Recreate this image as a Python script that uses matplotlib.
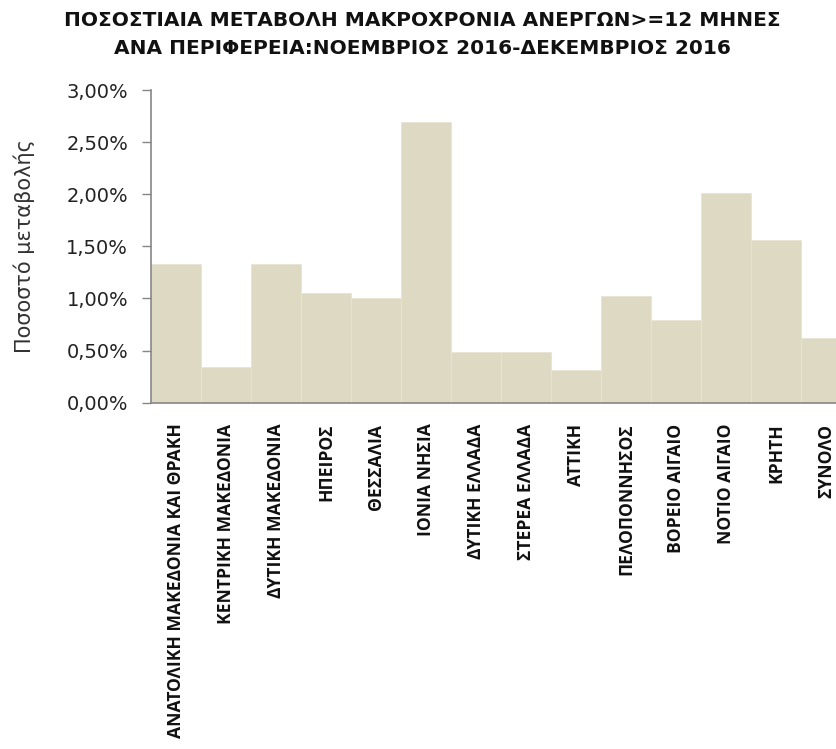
import matplotlib
matplotlib.use('Agg')
import matplotlib.pyplot as plt
from matplotlib import font_manager
from matplotlib.ticker import FuncFormatter, MultipleLocator

# Data (percent change, Nov 2016 -> Dec 2016)
regions = ['ΑΝΑΤΟΛΙΚΗ ΜΑΚΕΔΟΝΙΑ ΚΑΙ ΘΡΑΚΗ', 'ΚΕΝΤΡΙΚΗ ΜΑΚΕΔΟΝΙΑ', 'ΔΥΤΙΚΗ ΜΑΚΕΔΟΝΙΑ',
           'ΗΠΕΙΡΟΣ', 'ΘΕΣΣΑΛΙΑ', 'ΙΟΝΙΑ ΝΗΣΙΑ', 'ΔΥΤΙΚΗ ΕΛΛΑΔΑ', 'ΣΤΕΡΕΑ ΕΛΛΑΔΑ',
           'ΑΤΤΙΚΗ', 'ΠΕΛΟΠΟΝΝΗΣΟΣ', 'ΒΟΡΕΙΟ ΑΙΓΑΙΟ', 'ΝΟΤΙΟ ΑΙΓΑΙΟ', 'ΚΡΗΤΗ', 'ΣΥΝΟΛΟ']
change_pct = [1.33, 0.34, 1.33, 1.05, 1.00, 2.69, 0.49, 0.49, 0.31, 1.02, 0.79, 2.01, 1.56, 0.62]

title = 'ΠΟΣΟΣΤΙΑΙΑ ΜΕΤΑΒΟΛΗ ΜΑΚΡΟΧΡΟΝΙΑ ΑΝΕΡΓΩΝ>=12 ΜΗΝΕΣ\nΑΝΑ ΠΕΡΙΦΕΡΕΙΑ:ΝΟΕΜΒΡΙΟΣ 2016-ΔΕΚΕΜΒΡΙΟΣ 2016'
ylabel = 'Ποσοστό μεταβολής'

plt.rcParams['font.family'] = ['DejaVu Sans']

# narrow font for the category labels if we have it
installed = {f.name for f in font_manager.fontManager.ttflist}
if 'Liberation Sans Narrow' in installed:
    xfont, xsize = ['Liberation Sans Narrow', 'DejaVu Sans'], 14.5
else:
    xfont, xsize = ['Open Sans', 'DejaVu Sans'], 12.6

fig = plt.figure(figsize=(8.37, 7.49), dpi=100)
# plot area runs past the right edge, as in the original (cropped)
ax = fig.add_axes([151 / 837, 346.3 / 749, 700 / 837, 312.7 / 749])

x = range(len(regions))
ax.bar(x, change_pct, width=1.0, color='#DDD9C3', edgecolor='#E8E5D6', linewidth=0.6)

ax.set_xlim(-0.5, len(regions) - 0.5)
ax.set_ylim(0, 3.0)
ax.yaxis.set_major_locator(MultipleLocator(0.5))
ax.yaxis.set_major_formatter(FuncFormatter(lambda v, p: f'{v:.2f}%'.replace('.', ',')))

ax.set_xticks(list(x))
ax.set_xticklabels(regions, rotation=90, fontsize=xsize, fontweight='bold',
                   family=xfont, va='top', color='#111111')
ax.tick_params(axis='x', length=0, pad=15)
ax.tick_params(axis='y', length=6.5, width=1, color='#868686', labelsize=14, labelcolor='#222222', pad=10)

for s in ['top', 'right']:
    ax.spines[s].set_visible(False)
for s in ['left', 'bottom']:
    ax.spines[s].set_color('#868686')
    ax.spines[s].set_linewidth(1.2)

ax.set_ylabel(ylabel, fontsize=15, color='#333333')
ax.yaxis.set_label_coords(-0.165, 0.5)

fig.text(422 / 837, 1 - 35 / 749, title, ha='center', va='center', fontsize=14.5,
         fontweight='bold', linespacing=1.6, color='#111111')

fig.savefig('out.png', dpi=100)
